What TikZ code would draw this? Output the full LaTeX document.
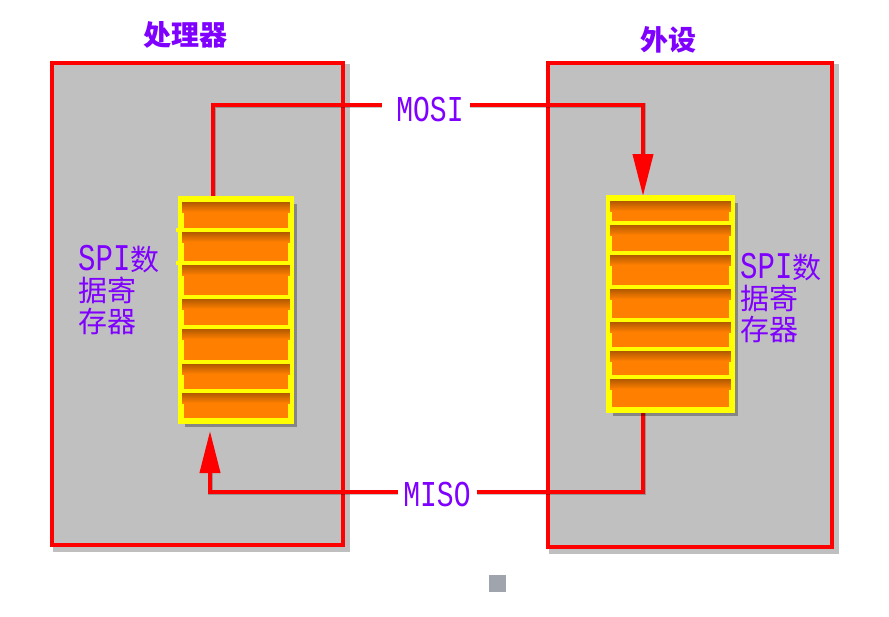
\documentclass[tikz,border=0pt]{standalone}
\usepackage{fontspec}
\usepackage{graphicx}
\newfontfamily\cjk{Noto Sans CJK SC}
\newfontfamily\lat{Liberation Mono}
\usetikzlibrary{arrows.meta,calc}
\definecolor{vio}{HTML}{8000FF}
\definecolor{boxgray}{HTML}{C0C0C0}
\definecolor{regorange}{HTML}{FF8000}
\definecolor{regyellow}{HTML}{FFFF00}
\definecolor{sqgray}{HTML}{A0A4AC}
\newcommand\latt[1]{\scalebox{1}[1.3]{\lat #1}}
\begin{document}
\begin{tikzpicture}[x=1pt,y=-1pt,
  wire/.style={draw=red, line width=4pt},
  wshadow/.style={draw=black, opacity=.22, line width=5pt},
  outerbox/.style={draw=red, line width=4pt, fill=boxgray},
  regbox/.style={draw=regyellow, line width=4pt, fill=regorange, inner sep=0pt},
  divider/.style={draw=regyellow, line width=4pt},
  title/.style={text=vio, font=\cjk\fontsize{28}{30}\selectfont\bfseries},
  sig/.style={text=vio, font=\lat\fontsize{28}{30}\selectfont, inner sep=0pt},
  reglabel/.style={text=vio, font=\cjk\fontsize{29}{31}\selectfont, align=left, inner sep=0pt, anchor=north west},
  tip/.style={-{Triangle[width=20pt,length=42pt]}}
]
\useasboundingbox (0,0) rectangle (889,616);
\fill[white] (0,0) rectangle (889,616);

% titles
\node[title] (tcpu) at (185,35) {处理器};
\node[title] (tdev) at (668,40) {外设};

% outer boxes with shadows
\draw[black, opacity=.25, line width=6pt] (56,67) rectangle (347,549);
\draw[black, opacity=.25, line width=6pt] (552,67) rectangle (836,551);
\draw[outerbox] (52,63) rectangle (343,545);
\draw[outerbox] (548,63) rectangle (832,547);

% registers (nodes)
\node[regbox, minimum width=108pt, minimum height=220pt] (regL) at (236,310) {};
\node[regbox, minimum width=121pt, minimum height=210pt] (regR) at (670.5,304) {};

% signal labels
\node[sig] (mosi) at (430,110) {\latt{MOSI}};
\node[sig] (miso) at (437,494) {\latt{MISO}};

% connector anchor points
\coordinate (moA) at (213,198);
\coordinate (moB) at (643,196);
\coordinate (miA) at (643,411);
\coordinate (miB) at (210,431);
\coordinate (mosiL) at (382,105);
\coordinate (mosiR) at (470,105);
\coordinate (misoL) at (398,492);
\coordinate (misoR) at (477,492);

% wire shadows
\begin{scope}[shift={(3,4)}]
\draw[wshadow] (moA) |- (mosiL);
\draw[wshadow] (mosiR) -| ($(moB)+(0,-40)$);
\draw[wshadow] (miA) |- (misoR);
\draw[wshadow] (misoL) -| ($(miB)+(0,38)$);
\end{scope}

% wires
\draw[wire] (moA) |- (mosiL);
\draw[wire, tip] (mosiR) -| (moB);
\draw[wire] (miA) |- (misoR);
\draw[wire, tip] (misoL) -| (miB);

% register shadows and re-draw
\fill[black, opacity=.3] (185,204) rectangle (297,427);
\fill[black, opacity=.3] (613,203) rectangle (738,416);
\node[regbox, minimum width=108pt, minimum height=220pt] at (regL) {};
\node[regbox, minimum width=121pt, minimum height=210pt] at (regR) {};

% divider shading
\foreach \d in {200,230,263,297,327,362,391} {
  \shade[top color=regorange!70!black, bottom color=regorange] (182,\d+2) rectangle (290,\d+12);
}
\foreach \d in {199,223,253,287,320,349,377} {
  \shade[top color=regorange!70!black, bottom color=regorange] (610,\d+2) rectangle (731,\d+12);
}
% dividers
\foreach \d/\a in {230/176,263/176,297/182,327/182,362/182,391/182} {
  \draw[divider] (\a,\d) -- (292,\d);
}
\foreach \d/\a in {223/608,253/608,287/606,320/608,349/608,377/608} {
  \draw[divider] (\a,\d) -- (731,\d);
}
% register borders on top
\draw[draw=regyellow, line width=4pt] (regL.north west) rectangle (regL.south east);
\draw[draw=regyellow, line width=4pt] (regR.north west) rectangle (regR.south east);

% register labels
\node[reglabel] (lblL) at (78,245) {{\latt{SPI}}数\\据寄\\存器};
\node[reglabel] (lblR) at (740,253) {{\latt{SPI}}数\\据寄\\存器};

% small square
\fill[sqgray] (489,575) rectangle (506,592);
\end{tikzpicture}
\end{document}
